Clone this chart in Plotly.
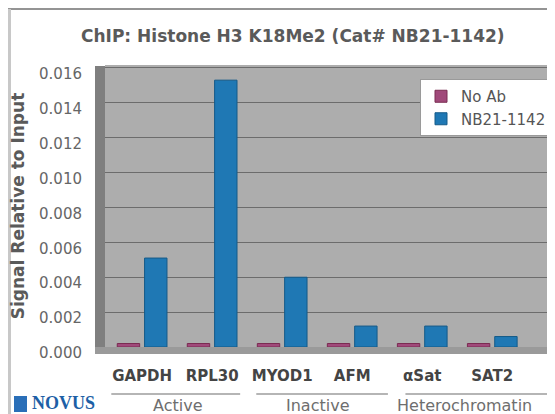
import plotly.graph_objects as go

# ---- data ----
categories = ["GAPDH", "RPL30", "MYOD1", "AFM", "αSat", "SAT2"]
no_ab = [0.0002, 0.0002, 0.0002, 0.0002, 0.0002, 0.0002]
nb21_1142 = [0.0051, 0.0153, 0.0040, 0.0012, 0.0012, 0.0006]
series_names = ["No Ab", "NB21-1142"]
groups = ["Active", "Inactive", "Heterochromatin"]
group_sizes = [2, 2, 2]
y_ticks = [0.000, 0.002, 0.004, 0.006, 0.008, 0.010, 0.012, 0.014, 0.016]
title_text = "ChIP: Histone H3 K18Me2 (Cat# NB21-1142)"
y_title = "Signal Relative to Input"

# The page body adds an 8px offset; layout below is expressed in window pixels.
OFF = 8
W, H = 555, 414
L, R, T, B = 105 - OFF, 0, 65 - OFF, H - (347 - OFF)
plot_w = W - L - R
plot_h = H - T - B


def sx(p):  # window pixel x -> paper x
    return (p - OFF - L) / plot_w


def sy(p):  # window pixel y -> paper y
    return (H - B - (p - OFF)) / plot_h


fig = go.Figure()
fig.add_trace(go.Bar(
    x=categories, y=no_ab, name=series_names[0],
    marker=dict(color="#a0497a", line=dict(color="#7a2c52", width=1)),
))
fig.add_trace(go.Bar(
    x=categories, y=nb21_1142, name=series_names[1],
    marker=dict(color="#1f78b4", line=dict(color="#145a88", width=1)),
))

shapes = []
annotations = []

# frame lines
shapes.append(dict(type="line", xref="paper", yref="paper", x0=sx(8), x1=sx(W + 10),
                   y0=sy(9), y1=sy(9), line=dict(color="#707070", width=1.5)))
shapes.append(dict(type="line", xref="paper", yref="paper", x0=sx(9.5), x1=sx(9.5),
                   y0=sy(9), y1=sy(H + 10), line=dict(color="#c8c8c8", width=3)))
# side wall and floor (3D look)
shapes.append(dict(type="rect", xref="paper", yref="paper", x0=sx(95), x1=sx(105),
                   y0=sy(353), y1=sy(66), fillcolor="#7f7f7f", line=dict(width=0), layer="below"))
shapes.append(dict(type="rect", xref="paper", yref="paper", x0=sx(95), x1=sx(W + 10),
                   y0=sy(354), y1=sy(347), fillcolor="#9a9a9a", line=dict(width=0), layer="below"))

# group lines and labels (positions computed from category indices)
start = 0
line_pad = [(-0.44, 0.4), (-0.37, 0.51), (-0.24, 1.2)]
label_off = [0.01, 0.01, 0.11]
for gi, (g, n) in enumerate(zip(groups, group_sizes)):
    a, b = start, start + n - 1
    shapes.append(dict(type="line", xref="x", yref="paper",
                       x0=a + line_pad[gi][0], x1=b + line_pad[gi][1],
                       y0=sy(394), y1=sy(394), line=dict(color="#b5b5b5", width=2)))
    annotations.append(dict(x=(a + b) / 2 + label_off[gi], y=sy(405), xref="x", yref="paper",
                            text=g, showarrow=False, yanchor="middle",
                            font=dict(family="DejaVu Sans", size=16, color="#6e6e6e")))
    start += n

# title
annotations.append(dict(x=sx(293), y=sy(36), xref="paper", yref="paper", text=title_text,
                        showarrow=False, yanchor="middle",
                        font=dict(family="DejaVu Sans", size=17, color="#5a5a5a", weight="bold")))
# logo
annotations.append(dict(x=sx(30), y=sy(403), xref="paper", yref="paper", xanchor="left",
                        text="<b>NOVUS</b>", showarrow=False, yanchor="middle",
                        font=dict(family="Liberation Serif", size=18, color="#1d5fa6")))
shapes.append(dict(type="rect", xref="paper", yref="paper", x0=sx(14), x1=sx(27),
                   y0=sy(412), y1=sy(396), fillcolor="#2a6fb8", line=dict(width=0)))

fig.update_layout(
    width=W, height=H,
    margin=dict(l=L, r=R, t=T, b=B, pad=0, autoexpand=False),
    paper_bgcolor="white",
    plot_bgcolor="#adadad",
    barmode="group",
    bargap=0.22,
    bargroupgap=0.18,
    showlegend=True,
    legend=dict(
        x=sx(552), y=sy(79), xanchor="right", yanchor="top",
        bgcolor="white", bordercolor="#9a9a9a", borderwidth=1,
        font=dict(family="DejaVu Sans", size=15, color="#555555"),
        itemwidth=30, tracegroupgap=0,
    ),
    shapes=shapes,
    annotations=annotations,
    xaxis=dict(
        type="category", range=[-0.53, 6.01], showgrid=False, zeroline=False,
        showline=False, ticks="", ticklabelstandoff=18, automargin=False,
        tickfont=dict(family="DejaVu Sans", size=15, color="#444444", weight="bold"),
    ),
    yaxis=dict(
        range=[0, 0.01617], tickvals=y_ticks, tickformat=".3f", automargin=False,
        showgrid=True, gridcolor="#6c6c6c", gridwidth=1, zeroline=False, showline=False,
        ticks="", ticklabelstandoff=22, ticklabelshift=6,
        tickfont=dict(family="DejaVu Sans", size=15, color="#666666"),
        title=dict(text=y_title, standoff=12,
                   font=dict(family="DejaVu Sans", size=17, color="#5a5a5a", weight="bold")),
    ),
)

fig.write_html("out.html")
